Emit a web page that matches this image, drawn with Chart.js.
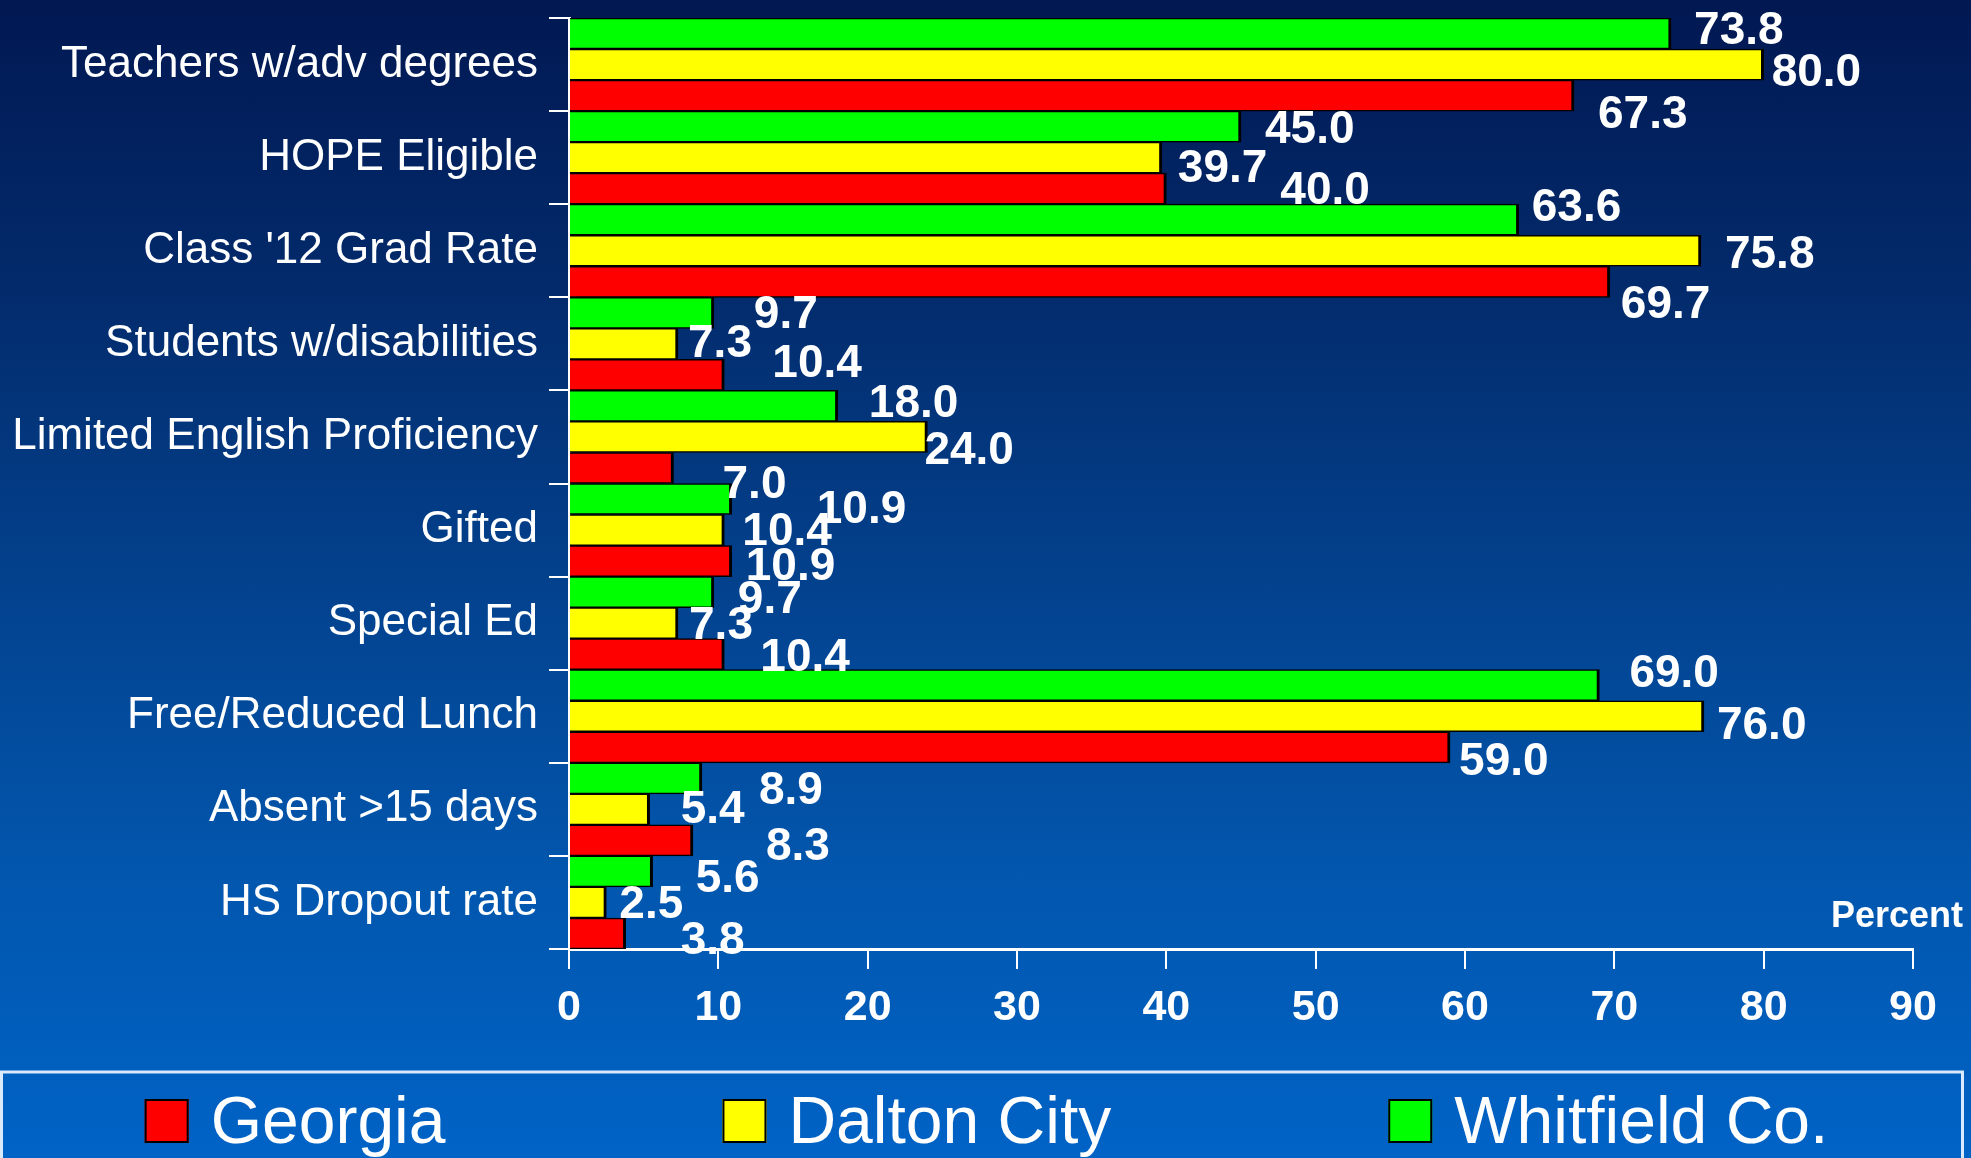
<!DOCTYPE html>
<html><head><meta charset="utf-8">
<script src="https://cdn.jsdelivr.net/npm/chart.js@4.4.0/dist/chart.umd.min.js"></script>
<style>
html,body{margin:0;padding:0;width:1971px;height:1158px;overflow:hidden;}
body{background:linear-gradient(to bottom,#011852 0%,#032b6c 25%,#03418d 50%,#0256ad 75%,#0063c6 100%);}
#wrap{position:absolute;left:0;top:0;width:1971px;height:1158px;}
</style></head><body>
<div id="wrap"><canvas id="c"></canvas></div>
<script>
const categories = ["Teachers w/adv degrees","HOPE Eligible","Class '12 Grad Rate","Students w/disabilities","Limited English Proficiency","Gifted","Special Ed","Free/Reduced Lunch","Absent >15 days","HS Dropout rate"];
const georgia     = [67.3, 40.0, 69.7, 10.4, 7.0, 10.9, 10.4, 59.0, 8.3, 3.8];
const daltonCity  = [80.0, 39.7, 75.8, 7.3, 24.0, 10.4, 7.3, 76.0, 5.4, 2.5];
const whitfieldCo = [73.8, 45.0, 63.6, 9.7, 18.0, 10.9, 9.7, 69.0, 8.9, 5.6];
const seriesNames = ["Georgia","Dalton City","Whitfield Co."];
const xTickValues = [0,10,20,30,40,50,60,70,80,90];
const axisTitle = "Percent";

// label placement offsets (px from bar end / bar centre) - style only
const whitfieldLabelDx = [23,24,13,40,31,85,24,30,57,43];
const whitfieldLabelDy = [-6,0,-15,-1,-5,8,4,-15,9,4];
const daltonLabelDx    = [8,16,24,10,-3,18,11,13,31,13];
const daltonLabelDy    = [5,8,1,-3,11,-2,-1,6,-3,-1];
const georgiaLabelDx   = [24,114,11,48,49,14,36,9,73,55];
const georgiaLabelDy   = [16,-1,20,-14,14,2,0,11,3,4];

const datasets = [
  {label: seriesNames[2], data: whitfieldCo, backgroundColor:'#00ff00', ldx: whitfieldLabelDx, ldy: whitfieldLabelDy},
  {label: seriesNames[1], data: daltonCity, backgroundColor:'#ffff00', ldx: daltonLabelDx, ldy: daltonLabelDy},
  {label: seriesNames[0], data: georgia, backgroundColor:'#ff0000', ldx: georgiaLabelDx, ldy: georgiaLabelDy}
].map(d => Object.assign(d, {borderColor:'#000', borderWidth:{top:1.5,bottom:1.5,right:3,left:0}, borderSkipped:false,
  categoryPercentage:1, barPercentage:1}));

const valueLabels = {
  id:'valueLabels',
  afterDatasetsDraw(chart){
    const ctx = chart.ctx, size = 46;
    ctx.save();
    ctx.fillStyle = '#fff';
    ctx.font = 'bold ' + size + 'px "Liberation Sans", Arial, sans-serif';
    ctx.textAlign = 'left'; ctx.textBaseline = 'alphabetic';
    chart.data.datasets.forEach((ds,i)=>{
      const meta = chart.getDatasetMeta(i);
      meta.data.forEach((el,j)=>{
        ctx.fillText(ds.data[j].toFixed(1), el.x + ds.ldx[j], el.y + ds.ldy[j] + size*0.716/2);
      });
    });
    ctx.restore();
  }
};

const legendBox = {
  id:'legendBox',
  afterDraw(chart){
    const ctx = chart.ctx;
    const W = chart.width;
    ctx.save();
    // Percent title
    ctx.fillStyle = '#fff';
    ctx.font = 'bold 36px "Liberation Sans", Arial, sans-serif';
    ctx.textAlign = 'right'; ctx.textBaseline = 'alphabetic';
    ctx.fillText(axisTitle, chart.chartArea.right + 50, chart.chartArea.bottom - 22);
    // legend frame
    ctx.strokeStyle = 'rgba(230,240,255,0.95)';
    ctx.lineWidth = 3;
    ctx.strokeRect(1.5, 1072, W - 10, 200);
    // legend items (reverse dataset order)
    const items = chart.data.datasets.slice().reverse();
    ctx.font = '66px "Liberation Sans", Arial, sans-serif';
    ctx.textAlign = 'left';
    const box = 44, gapText = 22, gapItem = 277;
    const widths = items.map(d => ctx.measureText(d.label).width);
    const total = widths.reduce((a,b)=>a+b,0) + items.length*(box+gapText) + (items.length-1)*gapItem;
    let x = (W - total)/2 + 1;
    items.forEach((d,k)=>{
      ctx.fillStyle = d.backgroundColor;
      ctx.fillRect(x, 1099, box, box);
      ctx.strokeStyle = '#000'; ctx.lineWidth = 2;
      ctx.strokeRect(x+1, 1100, box-2, box-2);
      ctx.fillStyle = '#fff';
      ctx.fillText(d.label, x + box + gapText, 1143);
      x += box + gapText + widths[k] + gapItem;
    });
    ctx.restore();
  }
};

new Chart(document.getElementById('c'), {
  type:'bar',
  data:{labels: categories, datasets: datasets},
  options:{
    indexAxis:'y',
    responsive:true, maintainAspectRatio:false, animation:false,
    layout:{padding:{top:18,right:58,bottom:0,left:0}},
    plugins:{legend:{display:false}, tooltip:{enabled:false}},
    scales:{
      y:{
        type:'category', offset:true,
        grid:{offset:true, drawOnChartArea:false, drawTicks:true, tickLength:20, color:'#fff', lineWidth:2},
        border:{color:'#fff', width:3},
        ticks:{color:'#fff', font:{family:'"Liberation Sans", Arial, sans-serif', size:44}, padding:11, autoSkip:false},
        afterFit(s){ s.width = 569; s.paddingTop = 0; s.paddingBottom = 0; }
      },
      x:{
        type:'linear', min:0, max:90,
        afterBuildTicks(s){ s.ticks = xTickValues.map(v=>({value:v})); },
        grid:{drawOnChartArea:false, drawTicks:true, tickLength:20, color:'#fff', lineWidth:2},
        border:{color:'#fff', width:3},
        ticks:{color:'#fff', font:{family:'"Liberation Sans", Arial, sans-serif', size:43, weight:'bold'}, padding:13, maxRotation:0},
        afterFit(s){ s.height = 209; }
      }
    }
  },
  plugins:[valueLabels, legendBox]
});
</script>
</body></html>
